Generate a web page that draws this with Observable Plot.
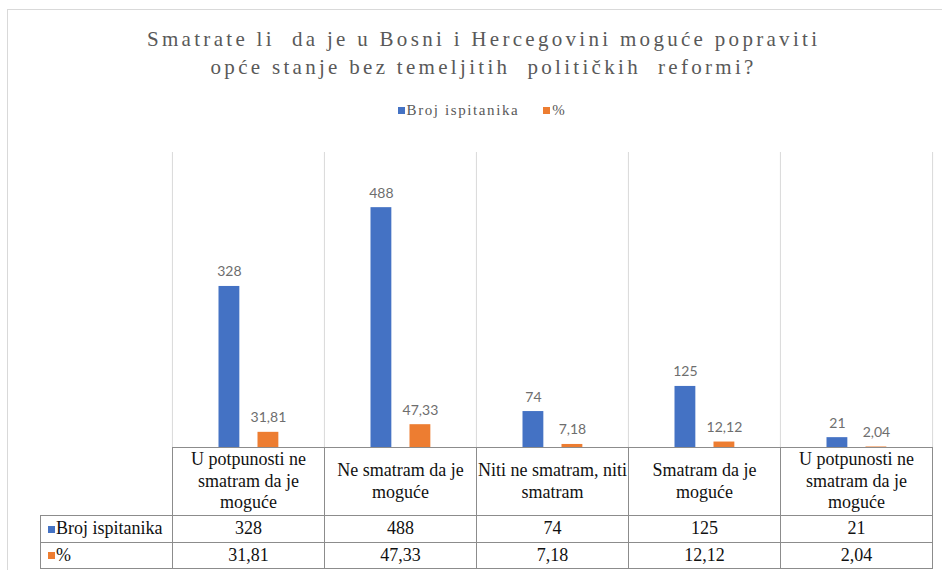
<!DOCTYPE html>
<html>
<head>
<meta charset="utf-8">
<script src="https://cdn.jsdelivr.net/npm/d3@7"></script>
<script src="https://cdn.jsdelivr.net/npm/@observablehq/plot@0.6"></script>
<style>
  html, body { margin: 0; padding: 0; background: #fff; }
  #chart { position: relative; width: 942px; height: 570px; overflow: hidden; background: #fff; }
  #frame { position: absolute; left: 7px; top: 9px; width: 960px; height: 600px; border-top: 1px solid #d9d9d9; border-left: 1px solid #d9d9d9; }
  #title { position: absolute; left: 0; top: 25px; width: 964px; text-align: center; white-space: pre;
           font-family: "Liberation Serif", "Times New Roman", serif; font-size: 21px; line-height: 28px;
           letter-spacing: 3.3px; color: #595959; padding-left: 3.3px; box-sizing: border-box; }
  #legend { position: absolute; left: 0; top: 101px; width: 964px; display: flex; justify-content: center; align-items: center;
            font-family: "Liberation Serif", "Times New Roman", serif; font-size: 15px; line-height: 18px; letter-spacing: 1.6px; color: #595959; }
  #legend .item { display: flex; align-items: center; margin: 0 12px; }
  #legend .key { width: 7px; height: 7px; margin-right: 2px; margin-top: 1px; }
  .cell { position: absolute; box-sizing: border-box; border: 1px solid #8c8c8c; display: flex; align-items: center; justify-content: center;
          text-align: center; font-family: "Liberation Serif", "Times New Roman", serif; font-size: 18px; line-height: 21.6px; color: #111; background: #fff; }
  .cell .inner { margin: 0 -4px; }
  .rowhead { justify-content: flex-start; padding-left: 7px; }
  .rowhead .key { display: inline-block; width: 7px; height: 7px; margin-right: 1px; }
  svg { position: absolute; left: 0; top: 0; }
</style>
</head>
<body>
<div id="chart">
  <div id="frame"></div>
  <div id="title"></div>
  <div id="legend"></div>
</div>
<script>
// ---- data ----
const titleLines = ["Smatrate li  da je u Bosni i Hercegovini moguće popraviti", "opće stanje bez temeljitih  političkih  reformi?"];
const categories = [
  "U potpunosti ne smatram da je moguće",
  "Ne smatram da je moguće",
  "Niti ne smatram, niti smatram",
  "Smatram da je moguće",
  "U potpunosti ne smatram da je moguće "
];
const seriesNames = ["Broj ispitanika", "%"];
const countValues = [328, 488, 74, 125, 21];
const percentValues = [31.81, 47.33, 7.18, 12.12, 2.04];
const seriesColors = ["#4472C4", "#ED7D31"];
const yMax = 600;

// ---- layout ----
const W = 942, H = 570;
const mL = 171.7, mR = 9.5, mT = 152, mB = 122.5;
const bw = (W - mL - mR) / categories.length;
const fmt = v => String(v).replace(".", ",");

const countRows = categories.map((c, i) => ({cat: c, value: countValues[i]}));
const pctRows = categories.map((c, i) => ({cat: c, value: percentValues[i]}));

const labelStyle = {fill: "#6e6e6e", fontSize: 14, fontFamily: "Lato, 'Open Sans', sans-serif", lineAnchor: "bottom", dy: -10};

const plot = Plot.plot({
  width: W, height: H,
  marginLeft: mL, marginRight: mR, marginTop: mT, marginBottom: mB,
  x: {domain: categories, padding: 0, axis: null},
  y: {domain: [0, yMax], axis: null},
  style: {background: "transparent", overflow: "visible"},
  marks: [
    Plot.ruleX(categories, {x: d => d, dx: -bw / 2, y1: 0, y2: yMax, stroke: "#d9d9d9", strokeWidth: 1}),
    Plot.ruleX([categories[categories.length - 1]], {x: d => d, dx: bw / 2, y1: 0, y2: yMax, stroke: "#d9d9d9", strokeWidth: 1}),
    Plot.barY(countRows, {x: "cat", y: "value", fill: seriesColors[0], insetLeft: 46.5, insetRight: bw - 67.5}),
    Plot.barY(pctRows, {x: "cat", y: "value", fill: seriesColors[1], insetLeft: 85.5, insetRight: bw - 106.5}),
    Plot.text(countRows, {x: "cat", y: "value", text: d => fmt(d.value), dx: -bw / 2 + 57, ...labelStyle}),
    Plot.text(pctRows, {x: "cat", y: "value", text: d => fmt(d.value), dx: -bw / 2 + 96, ...labelStyle})
  ]
});

const chart = document.getElementById("chart");
chart.appendChild(plot);

// title
document.getElementById("title").textContent = titleLines.join("\n");

// legend
const legend = document.getElementById("legend");
seriesNames.forEach((s, i) => {
  const item = document.createElement("div");
  item.className = "item";
  item.innerHTML = `<span class="key" style="background:${seriesColors[i]}"></span><span>${s}</span>`;
  legend.appendChild(item);
});

// data table, aligned with the plot's x scale
const xs = plot.scale("x");
const colEdges = categories.map(c => xs.apply(c));
colEdges.push(colEdges[colEdges.length - 1] + xs.bandwidth);
const tableLeft = 40;
const rowEdges = [447, 515, 542, 568];

function cell(x0, x1, y0, y1, html, cls) {
  const d = document.createElement("div");
  d.className = "cell" + (cls ? " " + cls : "");
  const l = Math.round(x0), r = Math.round(x1);
  d.style.left = l + "px";
  d.style.width = (r - l + 1) + "px";
  d.style.top = y0 + "px";
  d.style.height = (y1 - y0 + 1) + "px";
  d.innerHTML = html;
  chart.appendChild(d);
}

categories.forEach((c, i) => {
  cell(colEdges[i], colEdges[i + 1], rowEdges[0], rowEdges[1], `<div class="inner">${c.trim()}</div>`);
});
const rows = [countValues, percentValues];
rows.forEach((vals, r) => {
  cell(tableLeft, colEdges[0], rowEdges[r + 1], rowEdges[r + 2],
       `<span class="key" style="background:${seriesColors[r]}"></span>${seriesNames[r]}`, "rowhead");
  vals.forEach((v, i) => {
    cell(colEdges[i], colEdges[i + 1], rowEdges[r + 1], rowEdges[r + 2], fmt(v));
  });
});
</script>
</body>
</html>
